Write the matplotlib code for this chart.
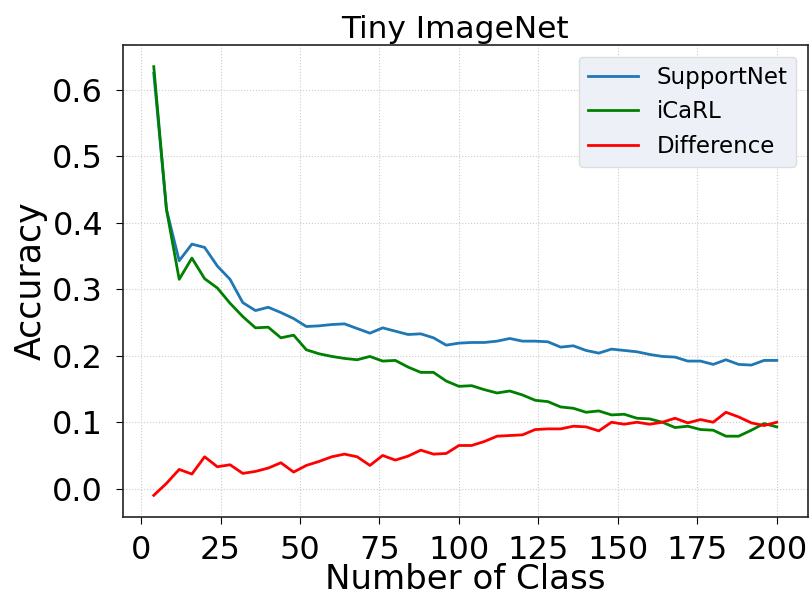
import matplotlib
matplotlib.use("Agg")
import matplotlib.pyplot as plt
import numpy as np

classes = list(range(4, 201, 4))
supportnet = [0.625, 0.42, 0.343, 0.368, 0.363, 0.335, 0.315, 0.28, 0.268, 0.273,
              0.265, 0.256, 0.244, 0.245, 0.247, 0.248, 0.241, 0.234, 0.242, 0.237,
              0.232, 0.233, 0.227, 0.216, 0.219, 0.22, 0.22, 0.222, 0.226, 0.222,
              0.222, 0.221, 0.213, 0.215, 0.208, 0.204, 0.21, 0.208, 0.206, 0.202,
              0.199, 0.198, 0.192, 0.192, 0.187, 0.194, 0.187, 0.186, 0.193, 0.193]
icarl = [0.635, 0.42, 0.315, 0.347, 0.316, 0.302, 0.279, 0.259, 0.242, 0.243,
         0.227, 0.231, 0.209, 0.203, 0.199, 0.196, 0.194, 0.199, 0.192, 0.193,
         0.183, 0.175, 0.175, 0.162, 0.154, 0.155, 0.149, 0.144, 0.147, 0.141,
         0.133, 0.131, 0.123, 0.121, 0.115, 0.117, 0.111, 0.112, 0.106, 0.105,
         0.1, 0.092, 0.094, 0.089, 0.088, 0.079, 0.079, 0.088, 0.098, 0.093]
difference = [-0.01, 0.008, 0.029, 0.022, 0.048, 0.033, 0.036, 0.023, 0.026, 0.031,
              0.039, 0.025, 0.035, 0.041, 0.048, 0.052, 0.048, 0.035, 0.05, 0.043,
              0.049, 0.058, 0.052, 0.053, 0.065, 0.065, 0.071, 0.079, 0.08, 0.081,
              0.089, 0.09, 0.09, 0.094, 0.093, 0.087, 0.1, 0.097, 0.1, 0.097,
              0.1, 0.106, 0.099, 0.104, 0.1, 0.115, 0.108, 0.099, 0.095, 0.1]

fig = plt.figure(figsize=(8.12, 6.03), dpi=100)
ax = fig.add_axes([0.151, 0.143, 0.844, 0.782])
ax.plot(classes, supportnet, color='#1f77b4', lw=2, label='SupportNet')
ax.plot(classes, icarl, color='green', lw=2, label='iCaRL')
ax.plot(classes, difference, color='red', lw=2, label='Difference')
ax.set_xticks([0, 25, 50, 75, 100, 125, 150, 175, 200])
ax.set_yticks([0.0, 0.1, 0.2, 0.3, 0.4, 0.5, 0.6])
ax.tick_params(labelsize=23, length=5, pad=9)
ax.tick_params(axis='x', pad=8)
ax.grid(True, linestyle=':', color='#cccccc', lw=0.8)
ax.set_xlabel('Number of Class', fontsize=24.5, labelpad=-2)
ax.set_ylabel('Accuracy', fontsize=25, labelpad=3)
ax.set_title('Tiny ImageNet', fontsize=22.5, pad=5, x=0.485)
for s in ax.spines.values():
    s.set_color('#222222')
    s.set_linewidth(1.2)
leg = ax.legend(loc='upper right', fontsize=16.5, facecolor='#eef0f8', edgecolor='#dddddd',
                framealpha=1.0, handlelength=2.2)
fig.savefig('out.png', dpi=100)
